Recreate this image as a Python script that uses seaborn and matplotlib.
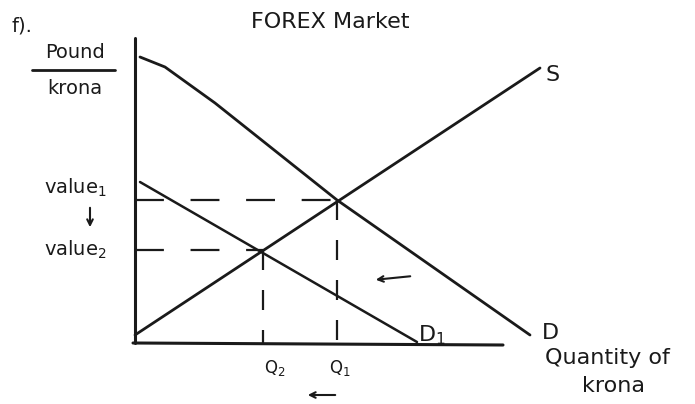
import matplotlib
matplotlib.use("Agg")
import matplotlib.pyplot as plt
import seaborn as sns
import pandas as pd

# Curves (quantity of krona, pound/krona), origin at the axes corner
d_qty = [5, 30, 80, 202, 395]
d_price = [286, 276, 240, 143, 8]
s_qty = [0, 405]
s_price = [8, 275]
d1_qty = [5, 282]
d1_price = [161, 1]

value1, value2 = 143, 93
q1, q2 = 202, 128

sns.set_style("white")
plt.rcParams['font.family'] = ['DejaVu Sans']

fig = plt.figure(figsize=(6.95, 4.04), dpi=100)
ax = fig.add_axes([0, 0, 1, 1])
ax.set_xlim(-135, 560)
ax.set_ylim(-61, 343)
ax.axis("off")

lw = 2.0
sns.lineplot(x=d_qty, y=d_price, ax=ax, color="#1a1a1a", lw=lw, sort=False)
sns.lineplot(x=s_qty, y=s_price, ax=ax, color="#1a1a1a", lw=lw, sort=False)
sns.lineplot(x=d1_qty, y=d1_price, ax=ax, color="#1a1a1a", lw=1.8, sort=False)

# axes
ax.plot([0, 0], [305, 0], color="#1a1a1a", lw=2.2)
ax.plot([-2, 368], [0, -2], color="#1a1a1a", lw=2.2)

# dashed guides
hdash = dict(color="#1a1a1a", lw=1.6, dashes=(13, 12))
vdash = dict(color="#1a1a1a", lw=1.6, dashes=(9, 9))
ax.plot([0, q1], [value1, value1], **hdash)
ax.plot([q1, q1], [value1, 0], **vdash)
ax.plot([0, q2], [value2, value2], **hdash)
ax.plot([q2, q2], [value2, 0], **vdash)

fs = 14
txt = dict(color="#1a1a1a", fontsize=fs, ha="center", va="center")
ax.text(-113, 317, "f).", **txt)
ax.text(195, 321, "FOREX Market", color="#1a1a1a", fontsize=16, ha="center", va="center")
ax.text(-60, 290, "Pound", **txt)
ax.plot([-103, -20], [273, 273], color="#1a1a1a", lw=2)
ax.text(-60, 254, "krona", **txt)
ax.text(-60, 155, "value$_1$", **txt)
ax.annotate("", xy=(-45, 113), xytext=(-45, 138),
            arrowprops=dict(arrowstyle="->", color="#1a1a1a", lw=1.5))
ax.text(-60, 93, "value$_2$", **txt)
ax.text(418, 268, "S", fontsize=16, color="#1a1a1a", ha="center", va="center")
ax.text(415, 10, "D", fontsize=16, color="#1a1a1a", ha="center", va="center")
ax.text(297, 8, "D$_1$", fontsize=16, color="#1a1a1a", ha="center", va="center")
ax.text(140, -25, "Q$_2$", color="#1a1a1a", fontsize=12, ha="center", va="center")
ax.text(205, -25, "Q$_1$", color="#1a1a1a", fontsize=12, ha="center", va="center")
ax.text(472, -15, "Quantity of", color="#1a1a1a", fontsize=16, ha="center", va="center")
ax.text(478, -43, "krona", color="#1a1a1a", fontsize=16, ha="center", va="center")
ax.annotate("", xy=(238, 63), xytext=(278, 67),
            arrowprops=dict(arrowstyle="->", color="#1a1a1a", lw=1.5))
ax.annotate("", xy=(170, -52), xytext=(203, -52),
            arrowprops=dict(arrowstyle="->", color="#1a1a1a", lw=1.5))

fig.savefig("out.png", dpi=100, facecolor="white")
